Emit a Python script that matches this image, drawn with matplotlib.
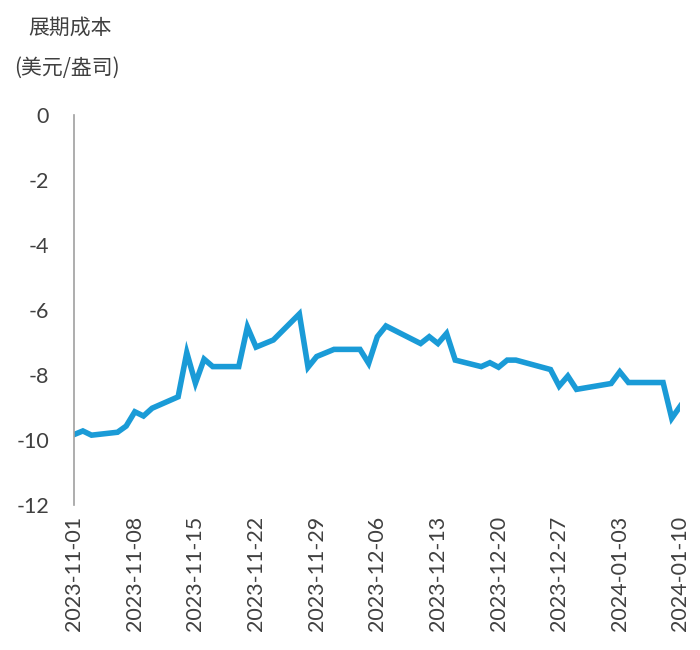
import pandas as pd
import matplotlib
matplotlib.use("Agg")
import matplotlib.pyplot as plt
import matplotlib.dates as mdates

plt.rcParams['font.family'] = ['Lato', 'Noto Sans CJK SC', 'DejaVu Sans']
plt.rcParams['axes.unicode_minus'] = False

# 展期成本 (美元/盎司), trading days
dates = ['2023-11-01', '2023-11-02', '2023-11-03', '2023-11-06', '2023-11-07',
         '2023-11-08', '2023-11-09', '2023-11-10', '2023-11-13', '2023-11-14',
         '2023-11-15', '2023-11-16', '2023-11-17', '2023-11-20', '2023-11-21',
         '2023-11-22', '2023-11-24', '2023-11-27', '2023-11-28', '2023-11-29',
         '2023-11-30', '2023-12-01', '2023-12-04', '2023-12-05', '2023-12-06',
         '2023-12-07', '2023-12-11', '2023-12-12', '2023-12-13', '2023-12-14',
         '2023-12-15', '2023-12-18', '2023-12-19', '2023-12-20', '2023-12-21',
         '2023-12-22', '2023-12-26', '2023-12-27', '2023-12-28', '2023-12-29',
         '2024-01-02', '2024-01-03', '2024-01-04', '2024-01-05', '2024-01-08',
         '2024-01-09', '2024-01-10']
values = [-9.83, -9.72, -9.85, -9.76, -9.57,
          -9.13, -9.26, -9.02, -8.67, -7.31,
          -8.25, -7.51, -7.74, -7.74, -6.52,
          -7.14, -6.92, -6.12, -7.76, -7.43,
          -7.32, -7.21, -7.21, -7.64, -6.82,
          -6.49, -7.03, -6.82, -7.03, -6.72,
          -7.54, -7.74, -7.62, -7.76, -7.54,
          -7.54, -7.83, -8.34, -8.03, -8.44,
          -8.26, -7.90, -8.23, -8.23, -8.23,
          -9.33, -8.95]
tick_dates = ['2023-11-01', '2023-11-08', '2023-11-15', '2023-11-22', '2023-11-29',
              '2023-12-06', '2023-12-13', '2023-12-20', '2023-12-27', '2024-01-03',
              '2024-01-10']

x = pd.to_datetime(dates)
ticks = pd.to_datetime(tick_dates)
text_color = '#404040'

fig = plt.figure(figsize=(7, 6.5), dpi=100)
ax = fig.add_axes([0.106, 0.223, 0.866, 0.6])
ax.plot(x, values, color='#1a9bd7', linewidth=4, solid_joinstyle='miter')

ax.set_ylim(-12, 0)
ax.set_yticks(range(-12, 1, 2))
ax.set_xlim(ticks[0], ticks[-1])
ax.set_xticks(ticks)
ax.xaxis.set_major_formatter(mdates.DateFormatter('%Y-%m-%d'))
ax.tick_params(axis='x', rotation=90, length=0, labelsize=15.5, colors=text_color, pad=8)
ax.tick_params(axis='y', length=0, labelsize=15.5, colors=text_color, pad=18)

for s in ['top', 'right', 'bottom']:
    ax.spines[s].set_visible(False)
ax.spines['left'].set_color('#a0a0a0')
ax.spines['left'].set_linewidth(1.2)

fig.text(0.04, 0.958, '展期成本', fontsize=15, color=text_color, va='center',
         family=['Noto Sans CJK SC', 'DejaVu Sans'])
fig.text(0.02, 0.895, '(美元/盎司)', fontsize=15, color=text_color, va='center',
         family=['Noto Sans CJK SC', 'DejaVu Sans'])

fig.savefig('out.png', dpi=100)
